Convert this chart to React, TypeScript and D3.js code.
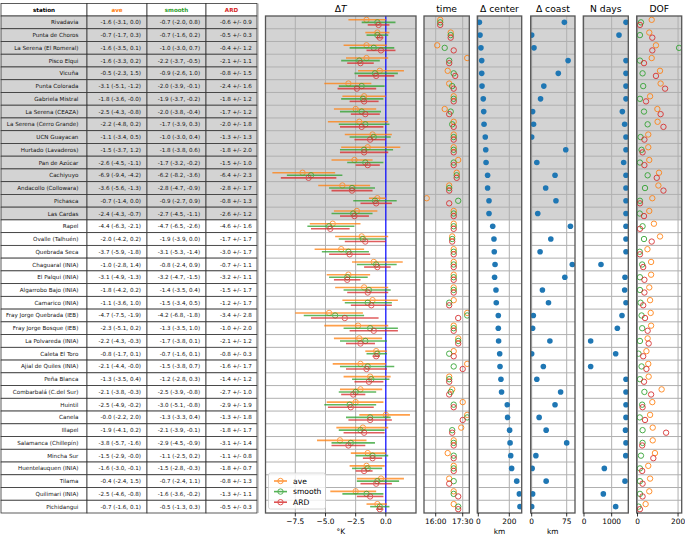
import React from 'react';
import * as d3 from 'd3';

const stations = [
  'Rivadavia', 'Punta de Choros', 'La Serena (El Romeral)', 'Pisco Elqui', 'Vicuña',
  'Punta Colorada', 'Gabriela Mistral', 'La Serena (CEAZA)', 'La Serena (Cerro Grande)',
  'UCN Guayacan', 'Hurtado (Lavaderos)', 'Pan de Azúcar', 'Cachiyuyo', 'Andacollo (Collowara)',
  'Pichasca', 'Las Cardas', 'Rapel', 'Ovalle (Talhuén)', 'Quebrada Seca', 'Chaguaral (INIA)',
  'El Palqui (INIA)', 'Algarrobo Bajo (INIA)', 'Camarico (INIA)', 'Fray Jorge Quebrada (IEB)',
  'Fray Jorge Bosque (IEB)', 'La Polvareda (INIA)', 'Caleta El Toro', 'Ajial de Quiles (INIA)',
  'Peña Blanca', 'Combarbalá (C.del Sur)', 'Huintil', 'Canela', 'Illapel', 'Salamanca (Chillepín)',
  'Mincha Sur', 'Huentelauquen (INIA)', 'Tilama', 'Quilimari (INIA)', 'Pichidangui',
];
// first rows drawn on a grey background
const nGrey = 16;

const aveVal = [-1.6, -0.7, -1.6, -1.6, -0.5, -3.1, -1.8, -2.5, -2.2, -1.1, -1.5, -2.6, -6.9, -3.6, -0.7, -2.4, -4.4, -2.0, -3.7, -1.0, -3.1, -1.8, -1.1, -4.7, -2.3, -2.2, -0.8, -2.1, -1.3, -2.1, -2.5, -0.0, -1.9, -3.8, -1.5, -1.6, -0.4, -2.5, -0.7];
const aveLo = [-3.1, -1.7, -3.5, -3.3, -2.3, -5.1, -3.6, -4.3, -4.8, -3.4, -3.7, -4.5, -9.4, -5.6, -1.4, -4.3, -6.3, -4.2, -5.9, -2.8, -4.9, -4.2, -3.6, -7.5, -5.1, -4.3, -1.7, -4.4, -3.5, -3.8, -4.9, -2.2, -4.1, -5.7, -2.9, -3.0, -2.4, -4.6, -1.6];
const aveHi = [0.0, 0.3, 0.1, 0.2, 1.5, -1.2, -0.0, -0.8, 0.2, 0.5, 1.2, -1.1, -4.2, -1.3, 0.0, -0.7, -2.1, 0.2, -1.8, 1.4, -1.3, 0.2, 1.0, -1.9, 0.2, -0.3, 0.1, -0.0, 0.4, -0.3, -0.2, 2.0, 0.2, -1.6, -0.0, -0.1, 1.5, -0.8, 0.1];

const smoothVal = [-0.7, -0.7, -1.0, -2.2, -0.9, -2.0, -1.9, -2.0, -1.7, -1.0, -1.8, -1.7, -6.2, -2.8, -0.9, -2.7, -4.7, -1.9, -3.1, -0.8, -3.2, -1.4, -1.5, -4.2, -1.3, -1.7, -0.7, -1.5, -1.2, -2.5, -3.0, -1.3, -2.1, -2.9, -1.1, -1.5, -0.7, -1.6, -0.5];
const smoothLo = [-2.0, -1.6, -3.0, -3.7, -2.6, -3.9, -3.7, -3.8, -3.9, -3.0, -3.8, -3.2, -8.2, -4.7, -2.7, -4.5, -6.5, -3.9, -5.3, -2.4, -4.7, -3.5, -3.4, -6.8, -3.5, -3.8, -1.6, -3.8, -2.8, -3.9, -5.1, -3.3, -3.9, -4.5, -2.5, -2.8, -2.4, -3.6, -1.3];
const smoothHi = [0.8, 0.2, 0.7, -0.5, 1.0, -0.1, -0.2, -0.4, 0.3, 0.4, 0.6, -0.2, -3.6, -0.9, 0.9, -1.1, -2.6, 0.0, -1.4, 0.9, -1.5, 0.4, 0.5, -1.8, 1.0, 0.1, 0.1, 0.7, 0.3, -0.8, -0.8, 0.4, -0.1, -0.9, 0.2, -0.3, 1.1, -0.2, 0.3];

const ardVal = [-0.6, -0.5, -0.4, -2.1, -0.8, -2.4, -1.8, -1.7, -2.0, -1.3, -1.8, -1.5, -6.4, -2.8, -0.8, -2.6, -4.6, -1.7, -3.0, -0.7, -3.2, -1.5, -1.2, -3.4, -1.0, -2.1, -0.8, -1.6, -1.4, -2.7, -2.9, -1.3, -1.8, -3.1, -1.1, -1.8, -0.8, -1.3, -0.5];
const ardErr = [0.9, 0.3, 1.2, 1.1, 1.5, 1.6, 1.2, 1.2, 1.8, 1.3, 2.0, 1.0, 2.3, 1.7, 1.3, 1.2, 1.6, 1.7, 1.7, 1.1, 1.1, 1.7, 1.7, 2.8, 2.0, 1.2, 0.3, 1.7, 1.2, 1.0, 1.9, 1.8, 1.7, 1.4, 0.8, 0.7, 1.3, 1.1, 0.3];

const timeAve = ['16:15', '16:50', '16:05', '17:45', '16:40', '16:45', '17:00', '16:30', '17:00', '17:00', '17:00', '17:15', '17:10', '16:45', '15:30', '17:00', '17:00', '16:55', '17:00', '17:00', '17:00', '17:00', '17:00', '17:45', '17:00', '17:15', '17:00', '17:45', '16:45', '16:55', '17:30', '17:45', '17:25', '17:00', '16:40', '17:00', '16:45', '17:00', '17:00'];
const timeSmooth = ['16:15', '16:50', '16:30', '16:45', '17:00', '16:55', '17:00', '16:50', '16:55', '17:00', '17:00', '17:00', '17:10', '16:45', '17:15', '17:00', '17:00', '16:55', '17:00', '17:00', '17:00', '17:00', '16:45', '17:45', '17:00', '17:15', '16:45', '17:00', '16:45', '16:50', '17:00', '17:45', '16:55', '17:00', '17:00', '17:00', '17:00', '17:00', '17:15'];
const timeArd = ['16:15', '16:50', '17:00', '16:45', '17:05', '17:00', '17:00', '16:45', '17:00', '17:00', '17:00', '17:00', '17:10', '16:45', '16:45', '17:00', '17:00', '16:55', '17:00', '17:00', '17:00', '17:00', '16:45', '17:15', '17:00', '17:15', '17:00', '17:30', '16:45', '16:45', '17:00', '17:30', '16:55', '17:00', '17:00', '17:00', '16:45', '17:15', '17:15'];

const distCenter = [7, 11, 17, 22, 22, 24, 32, 35, 37, 45, 48, 50, 60, 60, 69, 69, 93, 101, 103, 108, 105, 114, 116, 129, 129, 131, 138, 140, 146, 150, 187, 189, 202, 205, 209, 215, 248, 265, 269];
const distCoast = [70, 0, 5, 78, 57, 26, 19, 2, 4, 0, 73, 11, 50, 30, 52, 13, 83, 41, 18, 87, 71, 23, 36, 3.5, 2, 39, 0, 25, 11, 62, 50, 16, 31, 75, 9, 1, 31, 2, 0];
const nDays = [1518, 1265, null, 1518, 1518, 1518, 1518, 1386, 1470, 1518, 1518, 1434, 1518, 1518, 1518, 1518, 1518, 1518, 1518, 614, 1482, 1470, 1518, 1373, 1205, 241, 1145, 241, 1518, 1518, 1518, 1518, 1500, 1518, 1510, 735, 1482, 699, 1145];

const dofAve = [70, 58, 91, 70, 111, 114, 62, 98, 99, 53, 53, 58, 106, 103, 73, 58, 81, 111, 49, 67, 67, 58, 62, 65, 67, 50, 44, 53, 55, 119, 73, 62, 75, 75, 86, 53, 62, 58, 40];
const dofSmooth = [17, 12, 205, 12, 25, 28, 12, 32, 50, 15, 20, 12, 50, 37, 12, 11, 25, 32, 11, 23, 12, 12, 15, 20, 23, 12, 5, 20, 12, 34, 23, 11, 25, 25, 17, 12, 12, 12, 5];
const dofArd = [12, 73, 73, 32, 91, 136, 42, 114, 128, 34, 25, 34, 95, 128, 12, 32, 12, 70, 12, 28, 34, 34, 28, 37, 50, 55, 28, 44, 32, 67, 25, 37, 141, 23, 78, 23, 25, 25, 12];

const dTTicks = [-7.5, -5.0, -2.5, 0.0];

const series = [
  { name: 'ave', color: '#ff7f0e', off: -0.2 },
  { name: 'smooth', color: '#2ca02c', off: 0 },
  { name: 'ARD', color: '#d62728', off: 0.2 },
];

const W = 685;
const H = 535;
const TOP = 16;
const BOTTOM = 513;
const FONT = 'DejaVu Sans, Verdana, sans-serif';
const GREY = '#d3d3d3';
const GRID = '#b0b0b0';
const SPINE = '#333';
const FRAME = '#555';

const tableCols = [1, 87, 147, 206, 257];

const fmt = (v: number) => (v < 0 || Object.is(v, -0) ? '-' : '') + Math.abs(v).toFixed(1);
const toMin = (s: string) => {
  const [h, m] = s.split(':').map(Number);
  return (h - 16) * 60 + m;
};
const minLabel = (m: number) => {
  const h = 16 + Math.floor(m / 60);
  return `${h}:${String(m % 60).padStart(2, '0')}`;
};

type Panel = {
  id: string;
  title: string;
  x0: number;
  x1: number;
  domain: [number, number];
  ticks: number[];
  tickFmt: (v: number) => string;
  label?: string;
  dots?: (number | null)[];
  circles?: number[][];
};

const panels: Panel[] = [
  { id: 'time', title: 'time', x0: 424, x1: 469.3, domain: [-39, 112], ticks: [0, 90], tickFmt: minLabel,
    circles: [timeAve.map(toMin), timeSmooth.map(toMin), timeArd.map(toMin)] },
  { id: 'center', title: 'Δ center', x0: 477.3, x1: 521.7, domain: [-6.5, 280], ticks: [0, 200], tickFmt: String,
    label: 'km', dots: distCenter },
  { id: 'coast', title: 'Δ coast', x0: 530.7, x1: 575, domain: [-2.1, 92.8], ticks: [0, 75], tickFmt: String,
    label: 'km', dots: distCoast },
  { id: 'ndays', title: 'N days', x0: 583.3, x1: 628.3, domain: [-25, 1601], ticks: [0, 1000], tickFmt: String,
    dots: nDays },
  { id: 'dof', title: 'DOF', x0: 636.7, x1: 681.7, domain: [-4, 218], ticks: [0, 200], tickFmt: String,
    circles: [dofAve, dofSmooth, dofArd] },
];

function Frame({ x0, x1, y, n, xs }: { x0: number; x1: number; y: d3.ScaleLinear<number, number>; n: number; xs: number[] }) {
  const yGrey = y(nGrey - 0.5);
  return (
    <g>
      <rect x={x0} y={TOP} width={x1 - x0} height={BOTTOM - TOP} fill="#fff" />
      <rect x={x0} y={TOP} width={x1 - x0} height={yGrey - TOP} fill={GREY} />
      {d3.range(n - 1).map((i) => (
        <line key={i} x1={x0} x2={x1} y1={y(i + 0.5)} y2={y(i + 0.5)} stroke={GRID} strokeWidth={1} />
      ))}
      {xs.map((x, i) => (
        <line key={'v' + i} x1={x} x2={x} y1={TOP} y2={BOTTOM} stroke={GRID} strokeWidth={1} />
      ))}
    </g>
  );
}

function Axis({ x, ticks, tickFmt, label, cx }: { x: d3.ScaleLinear<number, number>; ticks: number[]; tickFmt: (v: number) => string; label?: string; cx: number }) {
  return (
    <g fontFamily={FONT} fontSize={7.4} fill="#000">
      {ticks.map((t) => (
        <g key={t}>
          <line x1={x(t)} x2={x(t)} y1={BOTTOM} y2={BOTTOM + 3.5} stroke="#000" strokeWidth={0.8} />
          <text x={x(t)} y={523.5} textAnchor="middle">{tickFmt(t)}</text>
        </g>
      ))}
      {label && (
        <text x={cx} y={533.5} textAnchor="middle">{label}</text>
      )}
    </g>
  );
}

export default function App() {
  const n = stations.length;
  const y = d3.scaleLinear().domain([-0.5, n - 0.5]).range([TOP, BOTTOM]);
  const dT = { x0: 265.5, x1: 416 };
  const xT = d3.scaleLinear().domain([-9.97, 2.5]).range([dT.x0, dT.x1]);
  const dFmt = d3.format('.1f');

  const bars = [
    { vals: aveVal, lo: aveLo, hi: aveHi },
    { vals: smoothVal, lo: smoothLo, hi: smoothHi },
    { vals: ardVal, lo: ardVal.map((v, i) => v - ardErr[i]), hi: ardVal.map((v, i) => v + ardErr[i]) },
  ];

  const rowText = (i: number) => [
    stations[i],
    `${fmt(aveVal[i])} (${fmt(aveLo[i])}, ${fmt(aveHi[i])})`,
    `${fmt(smoothVal[i])} (${fmt(smoothLo[i])}, ${fmt(smoothHi[i])})`,
    `${fmt(ardVal[i])} +/- ${ardErr[i].toFixed(1)}`,
  ];
  const headers = [
    { t: 'station', c: '#000' },
    { t: 'ave', c: series[0].color },
    { t: 'smooth', c: series[1].color },
    { t: 'ARD', c: series[2].color },
  ];

  return (
    <div style={{ position: 'absolute', left: 0, top: 0, width: W, height: H, background: '#fff' }}>
      <svg width={W} height={H} fontFamily={FONT}>
        <defs>
          <clipPath id="clip-dT">
            <rect x={dT.x0} y={TOP} width={dT.x1 - dT.x0} height={BOTTOM - TOP} />
          </clipPath>
          {panels.map((p) => (
            <clipPath key={p.id} id={'clip-' + p.id}>
              <rect x={p.x0} y={TOP} width={p.x1 - p.x0} height={BOTTOM - TOP} />
            </clipPath>
          ))}
        </defs>

        {/* table */}
        <g fontSize={5.6}>
          {headers.map((h, j) => (
            <g key={h.t}>
              <rect x={tableCols[j]} y={3.5} width={tableCols[j + 1] - tableCols[j]} height={TOP - 3.5}
                fill="#fff" stroke={SPINE} strokeWidth={0.8} />
              <text x={(tableCols[j] + tableCols[j + 1]) / 2} y={11.8} textAnchor="middle"
                fontWeight="bold" fill={h.c}>{h.t}</text>
            </g>
          ))}
          {stations.map((s, i) => (
            <g key={s}>
              {rowText(i).map((t, j) => {
                const w = tableCols[j + 1] - tableCols[j];
                return (
                  <g key={j}>
                    <rect x={tableCols[j]} y={y(i - 0.5)} width={w} height={y(i + 0.5) - y(i - 0.5)}
                      fill={i < nGrey ? GREY : '#fff'} stroke={SPINE} strokeWidth={0.8} />
                    <text x={tableCols[j + 1] - w * 0.1} y={y(i) + 2} textAnchor="end" fill="#111">{t}</text>
                  </g>
                );
              })}
            </g>
          ))}
          <line x1={tableCols[4] + 1} x2={tableCols[4] + 1} y1={3.5} y2={BOTTOM} stroke="#999" strokeWidth={1} />
        </g>

        {/* ΔT panel */}
        <Frame x0={dT.x0} x1={dT.x1} y={y} n={n} xs={dTTicks.slice(0, 3).map((t) => xT(t))} />
        <g clipPath="url(#clip-dT)">
          <line x1={xT(0)} x2={xT(0)} y1={TOP} y2={BOTTOM} stroke="#0000ff" strokeWidth={1.2} />
          {series.map((se, k) => (
            <g key={se.name} stroke={se.color} fill="none" opacity={0.75}>
              {stations.map((s, i) => {
                const yy = y(i + se.off);
                return (
                  <g key={s}>
                    <line x1={xT(bars[k].lo[i])} x2={xT(bars[k].hi[i])} y1={yy} y2={yy} strokeWidth={1.6} />
                    <circle cx={xT(bars[k].vals[i])} cy={yy} r={2.7} strokeWidth={1} />
                  </g>
                );
              })}
            </g>
          ))}
        </g>
        <rect x={dT.x0} y={TOP} width={dT.x1 - dT.x0} height={BOTTOM - TOP} fill="none" stroke={FRAME} strokeWidth={1.3} />
        <text x={(dT.x0 + dT.x1) / 2} y={12} textAnchor="middle" fontSize={9.2}>
          Δ<tspan fontStyle="italic">T</tspan>
        </text>
        <Axis x={xT} ticks={dTTicks} tickFmt={(v) => dFmt(v)} label="°K" cx={(dT.x0 + dT.x1) / 2} />

        {/* legend */}
        <g fontSize={7.6}>
          <rect x={268.5} y={473} width={57} height={36} rx={2} fill="#fff" fillOpacity={0.8} stroke="#ccc" strokeWidth={0.8} />
          {series.map((se, k) => {
            const ly = 481 + k * 10.6;
            return (
              <g key={se.name}>
                <g stroke={se.color} fill="none" opacity={0.8}>
                  <line x1={274} x2={287} y1={ly} y2={ly} strokeWidth={1.6} />
                  <circle cx={280.5} cy={ly} r={2.7} strokeWidth={1} />
                </g>
                <text x={293} y={ly + 2.7} fill="#000">{se.name}</text>
              </g>
            );
          })}
        </g>

        {/* side panels */}
        {panels.map((p) => {
          const x = d3.scaleLinear().domain(p.domain).range([p.x0, p.x1]);
          const cx = (p.x0 + p.x1) / 2;
          return (
            <g key={p.id}>
              <Frame x0={p.x0} x1={p.x1} y={y} n={n} xs={p.ticks.map((t) => x(t))} />
              <g clipPath={`url(#clip-${p.id})`}>
                {p.dots && p.dots.map((d, i) => d == null ? null : (
                  <circle key={i} cx={x(d)} cy={y(i)} r={2.8} fill="#1f77b4" />
                ))}
                {p.circles && series.map((se, k) => (
                  <g key={se.name} stroke={se.color} fill="none" opacity={0.85}>
                    {p.circles![k].map((v, i) => (
                      <circle key={i} cx={x(v)} cy={y(i + se.off)} r={2.7} strokeWidth={1} />
                    ))}
                  </g>
                ))}
              </g>
              <rect x={p.x0} y={TOP} width={p.x1 - p.x0} height={BOTTOM - TOP} fill="none" stroke={FRAME} strokeWidth={1.3} />
              <text x={cx} y={12} textAnchor="middle" fontSize={9.2}>{p.title}</text>
              <Axis x={x} ticks={p.ticks} tickFmt={p.tickFmt} label={p.label} cx={cx} />
            </g>
          );
        })}
      </svg>
    </div>
  );
}
